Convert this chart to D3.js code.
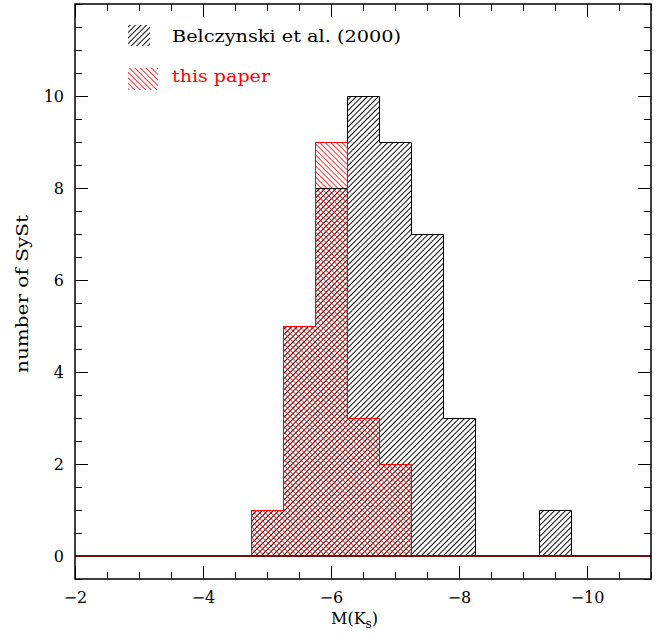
<!DOCTYPE html>
<meta charset="utf-8">
<script src="https://d3js.org/d3.v7.min.js"></script>
<body style="margin:0;background:#fff"></body>
<script>
    // bin centres in M(Ks), bins are 0.5 mag wide
    const binCenters = [-5.0, -5.5, -6.0, -6.5, -7.0, -7.5, -8.0, -8.5, -9.0, -9.5];
    const belczynski = [1, 5, 8, 10, 9, 7, 3, 0, 0, 1];
    const thisPaper = [1, 5, 9, 3, 2, 0, 0, 0, 0, 0];
    const xMajorTicks = [-2, -4, -6, -8, -10];
    const yMajorTicks = [0, 2, 4, 6, 8, 10];
    const legendLabels = ["Belczynski et al. (2000)", "this paper"];

    const binWidth = 0.5;
    const font = "'DejaVu Serif', serif";

    const x = d3.scaleLinear().domain([-2, -11]).range([75, 651]);
    const y = d3.scaleLinear().domain([-0.5, 12]).range([579, 4]);

    const svg = d3.select("body").append("svg")
        .attr("width", 665)
        .attr("height", 635);

    const defs = svg.append("defs");
    function hatch(id, angle, color, w) {
        const p = defs.append("pattern")
            .attr("id", id)
            .attr("patternUnits", "userSpaceOnUse")
            .attr("width", 3.9)
            .attr("height", 10)
            .attr("patternTransform", "rotate(" + angle + ")");
        p.append("line")
            .attr("x1", 0.5).attr("y1", 0).attr("x2", 0.5).attr("y2", 10)
            .attr("stroke", color).attr("stroke-width", w);
    }
    hatch("hBlack", 45, "#000", 0.95);
    hatch("hRed", -45, "#ff0000", 0.8);

    function binData(counts) {
        return binCenters.map((c, i) => ({ c: c, n: counts[i] })).filter(d => d.n > 0);
    }

    // hatched fills
    svg.append("g").selectAll("rect")
        .data(binData(belczynski))
        .join("rect")
        .attr("x", d => x(d.c + binWidth / 2))
        .attr("width", d => x(d.c - binWidth / 2) - x(d.c + binWidth / 2))
        .attr("y", d => y(d.n))
        .attr("height", d => y(0) - y(d.n))
        .attr("fill", "url(#hBlack)");

    svg.append("g").selectAll("rect")
        .data(binData(thisPaper))
        .join("rect")
        .attr("x", d => x(d.c + binWidth / 2))
        .attr("width", d => x(d.c - binWidth / 2) - x(d.c + binWidth / 2))
        .attr("y", d => y(d.n))
        .attr("height", d => y(0) - y(d.n))
        .attr("fill", "url(#hRed)");

    // axes, ticks pointing inward on all four sides
    const xMinor = d3.range(-2, -11.01, -0.5);
    const yMinor = d3.range(-0.5, 12.01, 0.5);
    const fmt = d3.format("d");

    function styleAxis(g) {
        g.select(".domain").remove();
        g.selectAll("line").attr("stroke", "#000").attr("stroke-width", 1);
        g.selectAll("text").attr("font-family", font).attr("font-size", 16).attr("fill", "#000");
    }

    svg.append("g").attr("transform", "translate(0," + y(-0.5) + ")")
        .call(d3.axisBottom(x).tickValues(xMinor).tickSize(-7).tickFormat(""))
        .call(styleAxis);
    svg.append("g").attr("transform", "translate(0," + y(-0.5) + ")")
        .call(d3.axisBottom(x).tickValues(xMajorTicks).tickSize(-13).tickPadding(13).tickFormat(fmt))
        .call(styleAxis);
    svg.append("g").attr("transform", "translate(0," + y(12) + ")")
        .call(d3.axisTop(x).tickValues(xMinor).tickSize(-7).tickFormat(""))
        .call(styleAxis);
    svg.append("g").attr("transform", "translate(0," + y(12) + ")")
        .call(d3.axisTop(x).tickValues(xMajorTicks).tickSize(-13).tickFormat(""))
        .call(styleAxis);

    svg.append("g").attr("transform", "translate(" + x(-2) + ",0)")
        .call(d3.axisLeft(y).tickValues(yMinor).tickSize(-7).tickFormat(""))
        .call(styleAxis);
    svg.append("g").attr("transform", "translate(" + x(-2) + ",0)")
        .call(d3.axisLeft(y).tickValues(yMajorTicks).tickSize(-13).tickPadding(11).tickFormat(fmt))
        .call(styleAxis);
    svg.append("g").attr("transform", "translate(" + x(-11) + ",0)")
        .call(d3.axisRight(y).tickValues(yMinor).tickSize(-7).tickFormat(""))
        .call(styleAxis);
    svg.append("g").attr("transform", "translate(" + x(-11) + ",0)")
        .call(d3.axisRight(y).tickValues(yMajorTicks).tickSize(-13).tickFormat(""))
        .call(styleAxis);

    // step outlines over the whole x range
    function stepPoints(counts) {
        const pts = [[x.domain()[0], 0]];
        binCenters.forEach((c, i) => pts.push([c + binWidth / 2, counts[i]]));
        pts.push([binCenters[binCenters.length - 1] - binWidth / 2, 0]);
        pts.push([x.domain()[1], 0]);
        return pts;
    }
    const step = d3.line()
        .x(d => x(d[0]))
        .y(d => y(d[1]))
        .curve(d3.curveStepAfter);

    const outlines = svg.append("g").attr("transform", "translate(0.5,0.5)");
    outlines.append("path")
        .attr("d", step(stepPoints(belczynski)))
        .attr("fill", "none")
        .attr("stroke", "#000")
        .attr("stroke-width", 1);
    outlines.append("path")
        .attr("d", step(stepPoints(thisPaper)))
        .attr("fill", "none")
        .attr("stroke", "#ff0000")
        .attr("stroke-width", 1);
    svg.append("line")
        .attr("x1", x(-2)).attr("x2", x(-11))
        .attr("y1", y(0)).attr("y2", y(0))
        .attr("stroke", "#6e1010").attr("stroke-width", 2);

    svg.append("rect")
        .attr("x", x(-2)).attr("y", y(12))
        .attr("width", x(-11) - x(-2)).attr("height", y(-0.5) - y(12))
        .attr("fill", "none").attr("stroke", "#000").attr("stroke-width", 1.5);

    // axis titles
    const xl = svg.append("text")
        .attr("x", 331).attr("y", 624)
        .attr("font-family", font).attr("font-size", 16);
    xl.append("tspan").text("M(K");
    xl.append("tspan").attr("font-size", 12).attr("dy", 4).text("s");
    xl.append("tspan").attr("dy", -4).text(")");

    svg.append("text")
        .attr("transform", "translate(28,294) rotate(-90)")
        .attr("text-anchor", "middle")
        .attr("font-family", font).attr("font-size", 16)
        .attr("textLength", 158).attr("lengthAdjust", "spacingAndGlyphs")
        .text("number of SySt");

    // legend
    svg.append("rect").attr("x", 128).attr("y", 25).attr("width", 22).attr("height", 21)
        .attr("fill", "url(#hBlack)");
    svg.append("text").attr("x", 172).attr("y", 42)
        .attr("font-family", font).attr("font-size", 16)
        .attr("textLength", 229).attr("lengthAdjust", "spacingAndGlyphs")
        .text(legendLabels[0]);

    svg.append("rect").attr("x", 128).attr("y", 68).attr("width", 30).attr("height", 22)
        .attr("fill", "url(#hRed)");
    svg.append("text").attr("x", 172).attr("y", 82)
        .attr("fill", "#ff0000")
        .attr("font-family", font).attr("font-size", 16)
        .attr("textLength", 98).attr("lengthAdjust", "spacingAndGlyphs")
        .text(legendLabels[1]);
</script>
